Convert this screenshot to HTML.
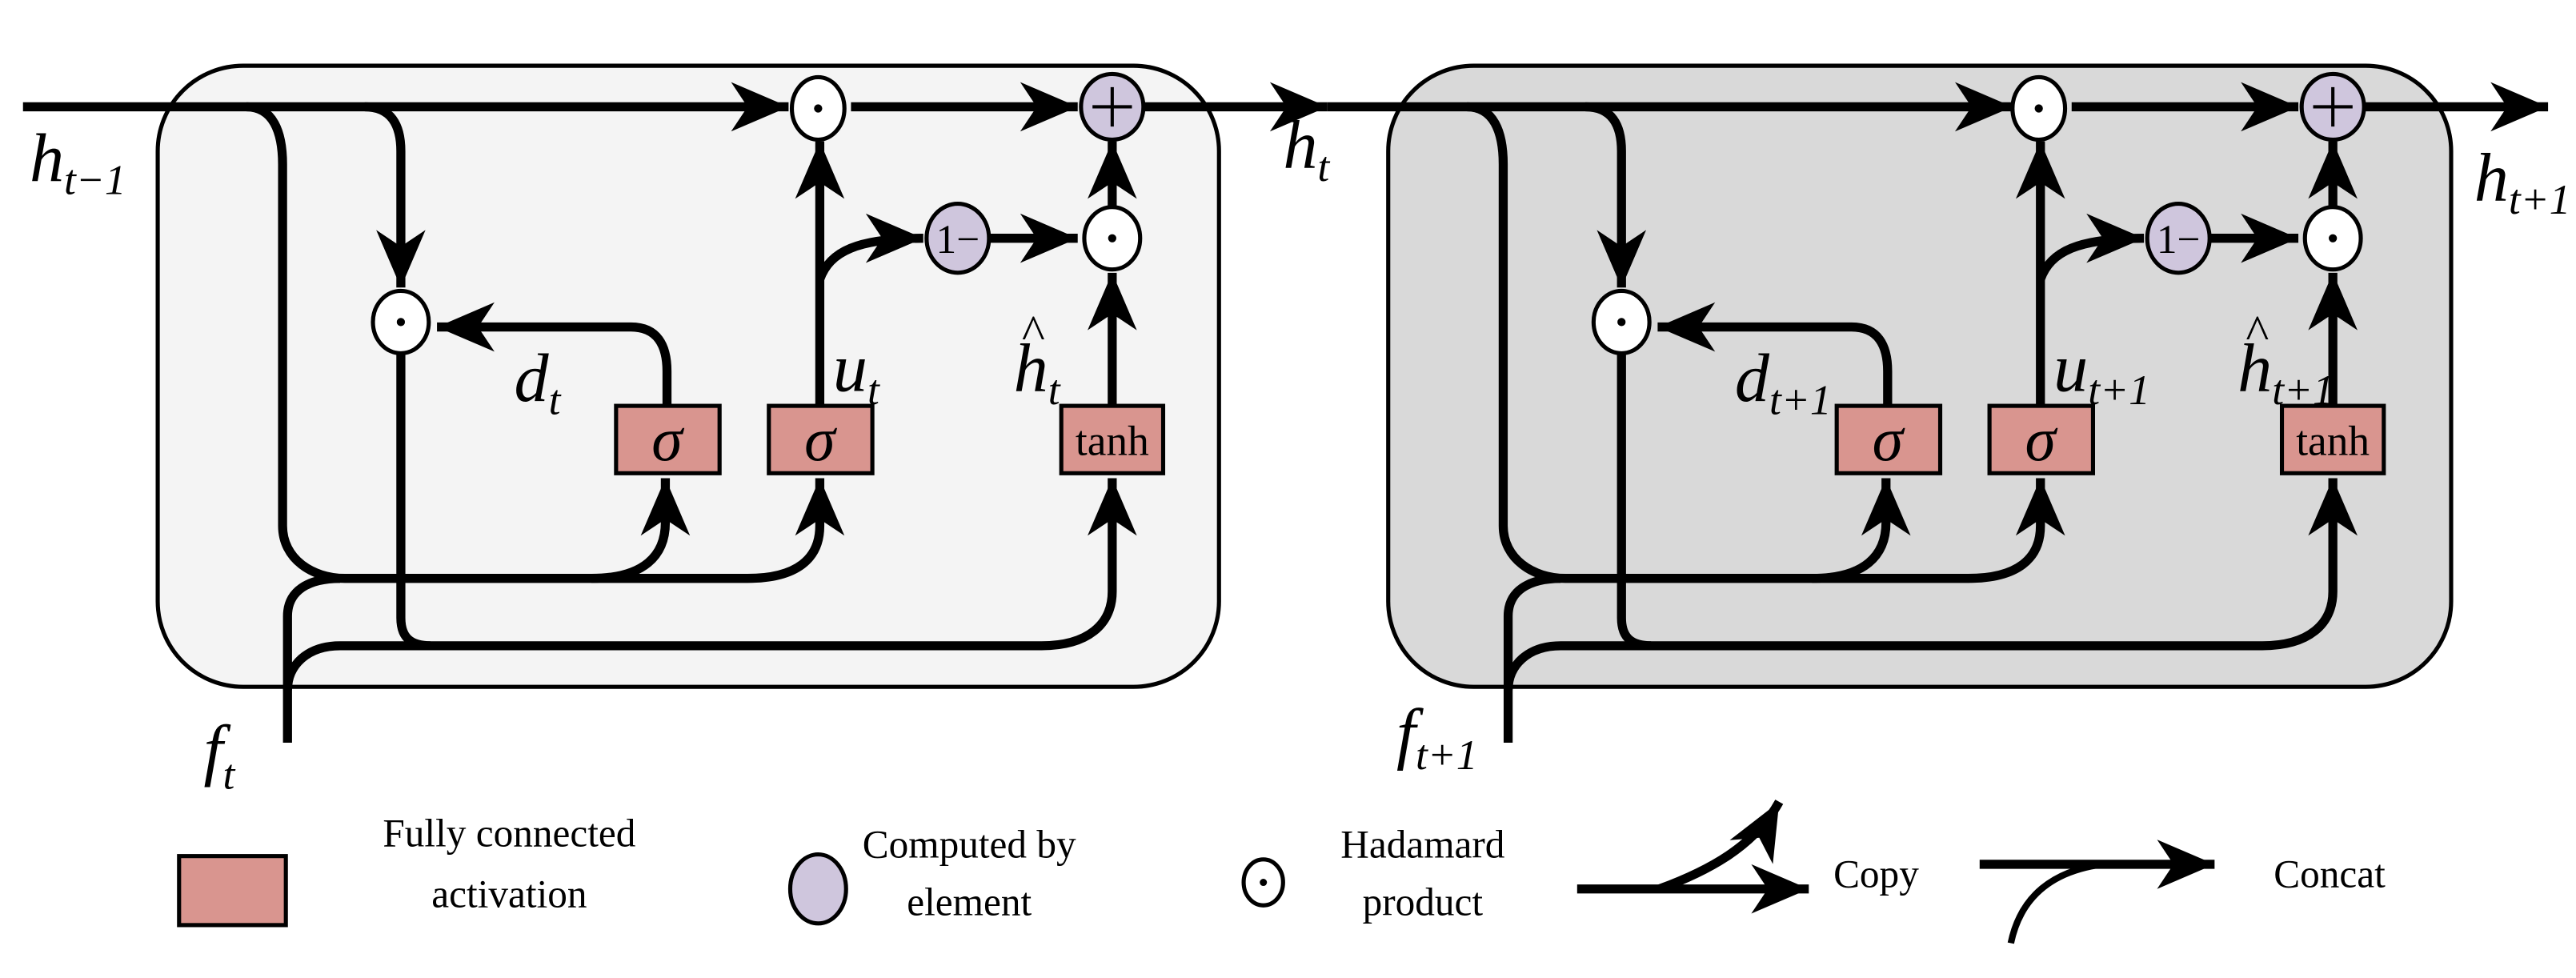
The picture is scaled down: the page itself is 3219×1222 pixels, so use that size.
<!DOCTYPE html>
<html><head><meta charset="utf-8"><style>html,body{margin:0;padding:0;background:#fff}svg{display:block}text{font-family:"Liberation Serif",serif}</style></head><body>
<svg width="3219" height="1222" viewBox="0 0 1568 595.2" preserveAspectRatio="none" xmlns="http://www.w3.org/2000/svg">
<defs>
<marker id="a" markerUnits="userSpaceOnUse" markerWidth="40" markerHeight="40" viewBox="-30 -15 32 30" refX="0" refY="0" orient="auto">
<path d="M0,0 L-28,-12 L-20,0 L-28,12 Z" fill="#000"/>
</marker>
<g id="w" fill="none" stroke="#000" stroke-width="5.5">
<path d="M518,65 H656" marker-end="url(#a)"/>
<path d="M696,65 H808" marker-end="url(#a)"/>
<path d="M150,65 C166,65 172,80 172,100 V320 C172,340 190,352 210,352 H455 C485,352 499,340 499,320 V291" marker-end="url(#a)"/>
<path d="M360,352 C392,352 405,338 405,318 V291" marker-end="url(#a)"/>
<path d="M175,452 V375 C175,360 187,352 207,352"/>
<path d="M175,420 C175,405 187,393 207,393 H634 C662,393 677,380 677,360 V291" marker-end="url(#a)"/>
<path d="M222,65 C238,65 244,76 244,92 V175" marker-end="url(#a)"/>
<path d="M244,215 V376 C244,388 250,393 262,393"/>
<path d="M406,247 V226 C406,210 400,199 384,199 H266" marker-end="url(#a)"/>
<path d="M499,247 V86" marker-end="url(#a)"/>
<path d="M499,170 C505,153 522,145 562,145" marker-end="url(#a)"/>
<path d="M602,145 H656" marker-end="url(#a)"/>
<path d="M677,247 V166" marker-end="url(#a)"/>
<path d="M677,126 V86" marker-end="url(#a)"/>
<g stroke-width="2.5">
<ellipse cx="498" cy="66" rx="16" ry="19" fill="#fff"/>
<ellipse cx="244" cy="196" rx="17" ry="19" fill="#fff"/>
<ellipse cx="677" cy="145" rx="17" ry="19" fill="#fff"/>
<ellipse cx="583" cy="145" rx="19" ry="21" fill="#cfc6dd"/>
<ellipse cx="677" cy="65" rx="19" ry="20" fill="#cfc6dd"/>
<rect x="375" y="247" width="63" height="41" fill="#d9958f"/>
<rect x="468" y="247" width="63" height="41" fill="#d9958f"/>
<rect x="646" y="247" width="62" height="41" fill="#d9958f"/>
<path d="M677,53 V77 M665,65 H689" stroke-width="2"/>
</g>
<g fill="#000" stroke="none">
<circle cx="498" cy="66" r="2.5"/><circle cx="244" cy="196" r="2.5"/><circle cx="677" cy="145" r="2.5"/>
<text x="583" y="154" font-size="25" text-anchor="middle">1−</text>
<text x="406" y="280" font-size="38" font-style="italic" text-anchor="middle">σ</text>
<text x="499" y="280" font-size="38" font-style="italic" text-anchor="middle">σ</text>
<text x="677" y="277" font-size="26" text-anchor="middle">tanh</text>
</g>
</g>
</defs>
<rect x="96" y="40" width="646" height="378" rx="52" fill="#f4f4f4" stroke="#000" stroke-width="2.5"/>
<rect x="845" y="40" width="647" height="378" rx="52" fill="#d9d9d9" stroke="#000" stroke-width="2.5"/>
<path d="M14,65 H480" stroke="#000" stroke-width="5.5" fill="none" marker-end="url(#a)"/>
<path d="M808,65 H1225" stroke="#000" stroke-width="5.5" fill="none" marker-end="url(#a)"/>
<use href="#w"/>
<use href="#w" transform="translate(743,0)"/>
<g font-style="italic" fill="#000">
<text x="18" y="110" font-size="42">h<tspan font-size="26" dy="8">t−1</tspan></text>
<text x="313" y="244" font-size="42">d<tspan font-size="26" dy="8">t</tspan></text>
<text x="507" y="238" font-size="42">u<tspan font-size="26" dy="8">t</tspan></text>
<text x="617" y="238" font-size="42">h<tspan font-size="26" dy="8">t</tspan></text>
<text x="622" y="212" font-size="30" font-style="normal">^</text>
<text x="781" y="102" font-size="42">h<tspan font-size="26" dy="8">t</tspan></text>
<text x="124" y="470" font-size="42">f<tspan font-size="26" dy="10">t</tspan></text>
<text x="1056" y="244" font-size="42">d<tspan font-size="26" dy="8">t+1</tspan></text>
<text x="1250" y="238" font-size="42">u<tspan font-size="26" dy="8">t+1</tspan></text>
<text x="1362" y="238" font-size="42">h<tspan font-size="26" dy="8">t+1</tspan></text>
<text x="1367" y="212" font-size="30" font-style="normal">^</text>
<text x="1506" y="122" font-size="42">h<tspan font-size="26" dy="8">t+1</tspan></text>
<text x="850" y="460" font-size="42">f<tspan font-size="26" dy="8">t+1</tspan></text>
</g>
<g font-size="24" text-anchor="middle" fill="#000">
<text x="310" y="515">Fully connected</text><text x="310" y="552">activation</text>
<text x="590" y="522">Computed by</text><text x="590" y="557">element</text>
<text x="866" y="522">Hadamard</text><text x="866" y="557">product</text>
<text x="1142" y="540">Copy</text>
<text x="1418" y="540">Concat</text>
</g>
<rect x="109" y="521" width="65" height="42" fill="#d9958f" stroke="#000" stroke-width="2.5"/>
<ellipse cx="498" cy="541" rx="17" ry="21" fill="#cfc6dd" stroke="#000" stroke-width="2.5"/>
<ellipse cx="769" cy="537" rx="12" ry="14" fill="#fff" stroke="#000" stroke-width="2.5"/>
<circle cx="769" cy="537" r="2.2"/>
<g fill="none" stroke="#000" stroke-width="5.5">
<path d="M960,541 H1101" marker-end="url(#a)"/>
<path d="M1010,541 C1040,530 1068,515 1083,488" marker-end="url(#a)"/>
<path d="M1205,526 H1348" marker-end="url(#a)"/>
<path d="M1280,526 C1250,530 1230,545 1224,574" stroke-width="4"/>
</g>
</svg>
</body></html>
